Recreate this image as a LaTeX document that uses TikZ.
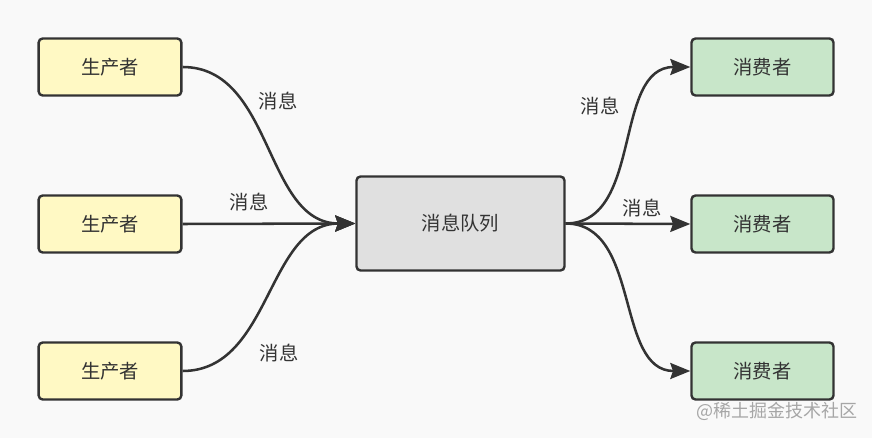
\documentclass[tikz,border=0pt]{standalone}
\usepackage{xcolor}
\usepackage{fontspec}
\setmainfont{Noto Sans CJK SC}
\usepackage{tikz}
\usetikzlibrary{positioning}
\usetikzlibrary{arrows.meta}
\pgfdeclarelayer{bglayer}
\pgfdeclarelayer{nodelayer}
\pgfdeclarelayer{edgelayer}
\pgfsetlayers{bglayer,nodelayer,edgelayer,main}
\definecolor{bgcolor}{HTML}{F9F9F9}
\definecolor{linecolor}{HTML}{333333}
\definecolor{prodfill}{HTML}{FFF9C4}
\definecolor{consfill}{HTML}{C8E6C9}
\definecolor{queuefill}{HTML}{E0E0E0}
\tikzset{
    none/.style = {inner sep=0pt},
    box/.style = {draw=linecolor, line width=1.8pt, rounded corners=3pt,
        text=linecolor, font=\fontsize{14.5}{16}\selectfont},
    prod/.style = {box, fill=prodfill, minimum width=107pt, minimum height=42.75pt},
    cons/.style = {box, fill=consfill, minimum width=106.5pt, minimum height=42.75pt},
    queue/.style = {box, fill=queuefill, minimum width=156pt, minimum height=70.5pt},
    msglabel/.style = {fill=bgcolor, inner sep=2pt, text=linecolor,
        font=\fontsize{14.5}{16}\selectfont}
}

\begin{document}
\begin{tikzpicture}[x=0.75pt, y=-0.75pt]
    % Set arrow tip globally
    \tikzset{>={Stealth[length=15pt, width=12pt, inset=2pt]}}

    \begin{pgfonlayer}{bglayer}
        \fill [bgcolor] (0, 0) rectangle (872, 438);
    \end{pgfonlayer}
    \useasboundingbox (0, 0) rectangle (872, 438);

    \begin{pgfonlayer}{nodelayer}
        \node [style=prod] (0) at (110, 67) {生产者};
        \node [style=prod] (1) at (110, 224) {生产者};
        \node [style=prod] (2) at (110, 371) {生产者};
        \node [style=queue] (3) at (460.5, 223.5) {消息队列};
        \node [style=cons] (4) at (762.5, 67) {消费者};
        \node [style=cons] (5) at (762.5, 224) {消费者};
        \node [style=cons] (6) at (762.5, 371) {消费者};
        \node [style=msglabel] (7) at (278, 101) {消息};
        \node [style=msglabel] (8) at (249, 202) {消息};
        \node [style=msglabel] (9) at (279, 353) {消息};
        \node [style=msglabel] (10) at (600, 106) {消息};
        \node [style=msglabel] (11) at (642, 208) {消息};
        \node [style=none, anchor=east, text=gray!70, font=\fontsize{13.5}{15}\selectfont] (12) at (858, 411) {@稀土掘金技术社区};
    \end{pgfonlayer}
    \begin{pgfonlayer}{edgelayer}
        \draw [->, draw=linecolor, line width=1.9pt] (0.east) to [out=0, in=180] (3.west);
        \draw [->, draw=linecolor, line width=1.9pt] (1.east) to (3.west);
        \draw [->, draw=linecolor, line width=1.9pt] (2.east) to [out=0, in=180] (3.west);
        \draw [->, draw=linecolor, line width=1.9pt] (3.east) to [out=0, in=180] (4.west);
        \draw [->, draw=linecolor, line width=1.9pt] (3.east) to (5.west);
        \draw [->, draw=linecolor, line width=1.9pt] (3.east) to [out=0, in=180] (6.west);
    \end{pgfonlayer}
\end{tikzpicture}
\end{document}
